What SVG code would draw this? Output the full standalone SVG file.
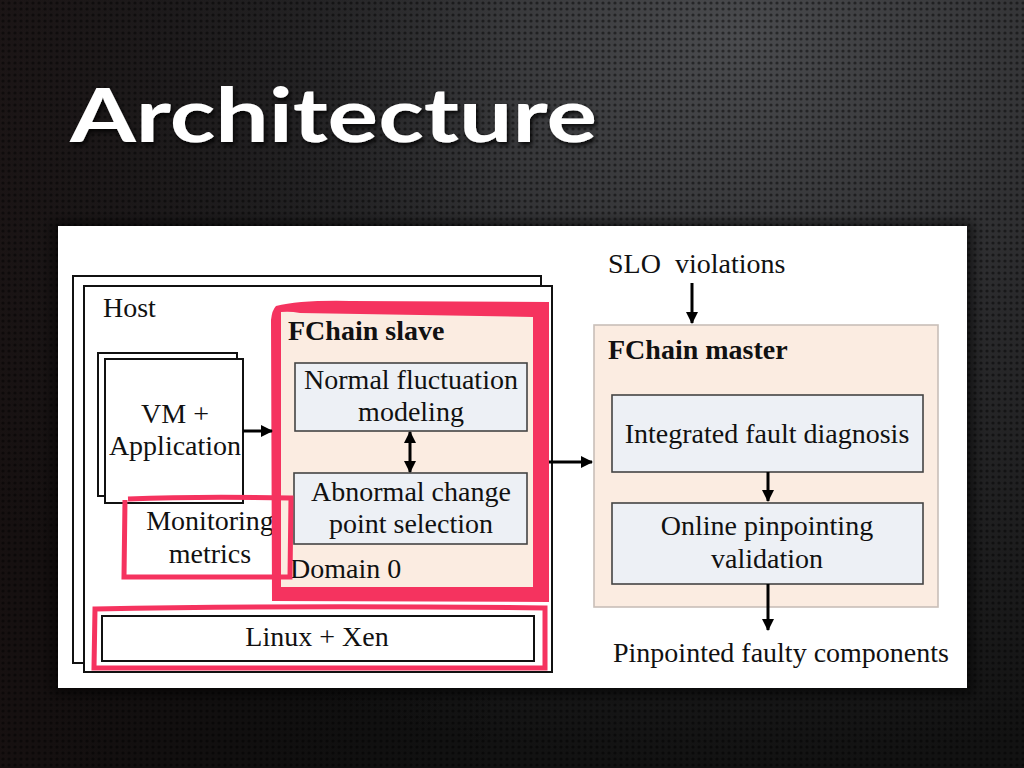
<svg xmlns="http://www.w3.org/2000/svg" width="1024" height="768" viewBox="0 0 1024 768">
<defs>
  <radialGradient id="bg" cx="0.72" cy="0.05" r="0.95">
    <stop offset="0" stop-color="#4a4b4e"/>
    <stop offset="0.45" stop-color="#2a2a2c"/>
    <stop offset="1" stop-color="#121212"/>
  </radialGradient>
  <linearGradient id="lshade" x1="0" y1="0" x2="1" y2="0">
    <stop offset="0" stop-color="#1a0f0f" stop-opacity="0.55"/>
    <stop offset="0.5" stop-color="#000" stop-opacity="0"/>
  </linearGradient>
  <pattern id="dots" width="6" height="6" patternUnits="userSpaceOnUse">
    <circle cx="3" cy="3" r="1.6" fill="#000" fill-opacity="0.45"/>
  </pattern>
  <filter id="shadow" x="-10%" y="-10%" width="120%" height="120%">
    <feGaussianBlur stdDeviation="6"/>
  </filter>
  <filter id="tshadow" x="-5%" y="-20%" width="110%" height="140%">
    <feDropShadow dx="2" dy="3" stdDeviation="2" flood-color="#000" flood-opacity="0.8"/>
  </filter>
  <marker id="ah" viewBox="0 0 12 12" refX="11" refY="6" markerWidth="12" markerHeight="12" markerUnits="userSpaceOnUse" orient="auto-start-reverse">
    <path d="M0,0 L12,6 L0,12 z" fill="#000"/>
  </marker>
  <style>
    .t{font-family:"Liberation Serif","Times New Roman",serif;font-size:28px;fill:#111}
    .b{font-weight:bold}
    .c{text-anchor:middle}
    .box{fill:#fff;stroke:#111;stroke-width:2}
    .inner{fill:#edf0f5;stroke:#444;stroke-width:1.6}
    .peach{fill:#fbece1}
    .red{fill:#f5335f}
    .redline{fill:none;stroke:#f5335f}
    .conn{stroke:#000;stroke-width:3;fill:none}
  </style>
</defs>

<!-- background -->
<rect width="1024" height="768" fill="url(#bg)"/>
<rect width="1024" height="768" fill="url(#lshade)"/>
<rect width="1024" height="768" fill="url(#dots)"/>

<!-- title -->
<g id="title">
  <text x="70" y="142" font-family="Lato,'Open Sans',sans-serif" font-weight="bold" font-size="74" fill="#fff" textLength="527" lengthAdjust="spacingAndGlyphs" filter="url(#tshadow)">Architecture</text>
</g>

<!-- white panel -->
<rect x="52" y="222" width="921" height="472" fill="#000" fill-opacity="0.6" filter="url(#shadow)"/>
<rect x="58" y="226" width="909" height="462" fill="#fff"/>

<!-- host -->
<g id="host">
  <rect class="box" x="73" y="276" width="468" height="387"/>
  <rect class="box" x="84" y="286" width="468" height="386"/>
  <text class="t" x="103" y="317">Host</text>
</g>

<!-- VM -->
<g id="vm">
  <rect class="box" x="98" y="353" width="139" height="143"/>
  <rect class="box" x="105" y="359" width="138" height="144"/>
  <text class="t c" x="175" y="423">VM +</text>
  <text class="t c" x="175" y="455">Application</text>
</g>

<!-- FChain slave -->
<g id="slave">
  <rect class="peach" x="279" y="309" width="255" height="279"/>
  <text class="t b" x="288" y="340">FChain slave</text>
  <g id="nfm">
    <rect class="inner" x="295" y="363" width="232" height="68"/>
    <text class="t c" x="411" y="389">Normal fluctuation</text>
    <text class="t c" x="411" y="421">modeling</text>
  </g>
  <g id="acps">
    <rect class="inner" x="294" y="473" width="233" height="71"/>
    <text class="t c" x="411" y="501">Abnormal change</text>
    <text class="t c" x="411" y="533">point selection</text>
  </g>
  <text class="t" x="290" y="578">Domain 0</text>
</g>

<!-- monitoring metrics -->
<g id="monitoring">
  <text class="t c" x="210" y="530">Monitoring</text>
  <text class="t c" x="210" y="563">metrics</text>
  <path class="redline" stroke-width="5" d="M128,499 Q200,496 291,498 L290,577 L124,577 L125,500"/>
</g>

<!-- red highlight of slave -->
<path class="red" fill-rule="evenodd" d="M276,306 Q300,300 350,301 L549,302 L549,602 L272,601 L271,320 Q272,310 276,306 Z M281,312 L281,587 L533,587 L533,317 L300,313 Q290,311 281,312 Z"/>

<!-- Linux + Xen -->
<g id="linux">
  <rect class="box" x="102" y="616" width="432" height="45"/>
  <text class="t c" x="317" y="646">Linux + Xen</text>
  <path class="redline" stroke-width="5" d="M95,609 Q300,605 545,608 L545,668 L94,668 Z"/>
</g>

<!-- FChain master -->
<g id="master">
  <rect x="594" y="325" width="344" height="282" fill="#fbece1" stroke="#c9bfb8" stroke-width="1.6"/>
  <text class="t b" x="608" y="359">FChain master</text>
  <g id="ifd">
    <rect class="inner" x="612" y="395" width="311" height="77"/>
    <text class="t c" x="767" y="443">Integrated fault diagnosis</text>
  </g>
  <g id="opv">
    <rect class="inner" x="612" y="503" width="311" height="81"/>
    <text class="t c" x="767" y="535">Online pinpointing</text>
    <text class="t c" x="767" y="568">validation</text>
  </g>
</g>

<g id="labels">
  <text class="t" x="608" y="273" xml:space="preserve">SLO  violations</text>
  <text class="t" x="613" y="662">Pinpointed faulty components</text>
</g>

<!-- connectors -->
<g id="connectors">
  <line class="conn" x1="243" y1="431" x2="272" y2="431" marker-end="url(#ah)"/>
  <line class="conn" x1="410" y1="432" x2="410" y2="472" marker-start="url(#ah)" marker-end="url(#ah)"/>
  <line class="conn" x1="549" y1="462" x2="592" y2="462" marker-end="url(#ah)"/>
  <line class="conn" x1="692" y1="283" x2="692" y2="323" marker-end="url(#ah)"/>
  <line class="conn" x1="768" y1="472" x2="768" y2="501" marker-end="url(#ah)"/>
  <line class="conn" x1="768" y1="584" x2="768" y2="630" marker-end="url(#ah)"/>
</g>
</svg>
